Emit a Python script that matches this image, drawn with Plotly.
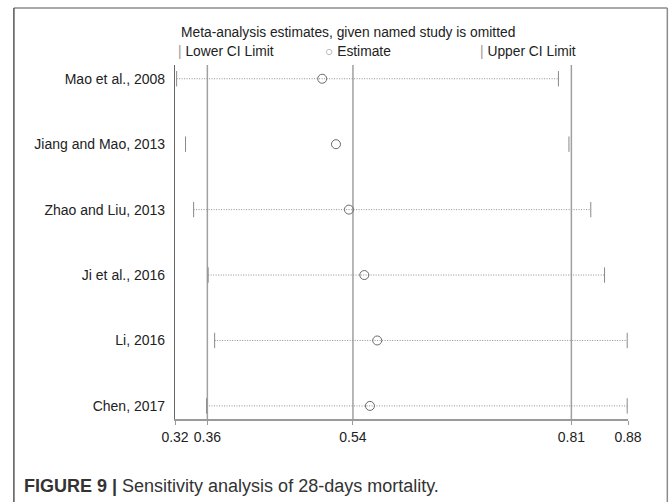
import plotly.graph_objects as go

studies = ["Mao et al., 2008", "Jiang and Mao, 2013", "Zhao and Liu, 2013",
           "Ji et al., 2016", "Li, 2016", "Chen, 2017"]
estimate = [0.502, 0.519, 0.535, 0.554, 0.570, 0.561]
lower = [0.322, 0.333, 0.343, 0.361, 0.369, 0.359]
upper = [0.794, 0.807, 0.834, 0.851, 0.879, 0.879]
show_line = [True, False, True, True, True, True]
ref_lines = [0.36, 0.54, 0.81]
xticks = [0.32, 0.36, 0.54, 0.81, 0.88]
xtick_labels = ["0.32", "0.36", "0.54", "0.81", "0.88"]

n = len(studies)
ypos = [n - 1 - i for i in range(n)]

FONT = "Liberation Sans, Arial, sans-serif"
GRAY = "#8a8a8a"

fig = go.Figure()

# dotted CI lines
for i in range(n):
    if show_line[i]:
        fig.add_trace(go.Scatter(
            x=[lower[i], upper[i]], y=[ypos[i], ypos[i]], mode="lines",
            line=dict(color="#8f8f8f", width=1, dash="1px,1.5px"),
            showlegend=False, hoverinfo="skip"))

# CI end ticks
fig.add_trace(go.Scatter(
    x=lower + upper, y=ypos + ypos, mode="markers",
    marker=dict(symbol="line-ns", size=11, line=dict(color=GRAY, width=1)),
    showlegend=False, hoverinfo="skip"))

# estimates
fig.add_trace(go.Scatter(
    x=estimate, y=ypos, mode="markers",
    marker=dict(symbol="circle-open", size=9, color="#6a6a6a", line=dict(width=1)),
    showlegend=False))

for v in ref_lines:
    fig.add_vline(x=v, line=dict(color="#a0a0a0", width=1.5), layer="below")

fig.update_xaxes(range=[0.32, 0.88], tickvals=xticks, ticktext=xtick_labels,
                 showline=True, linecolor="#9a9a9a", linewidth=1.5,
                 ticks="outside", ticklen=4, tickcolor="#9a9a9a",
                 showgrid=False, zeroline=False,
                 tickfont=dict(family=FONT, size=14, color="#222222"))
fig.update_yaxes(range=[-0.2, 5.21], tickvals=ypos, ticktext=studies,
                 showline=True, linecolor="#666666", linewidth=1.2,
                 ticks="", showgrid=False, zeroline=False,
                 ticklabelstandoff=6,
                 tickfont=dict(family=FONT, size=14, color="#222222"))

W, H = 669, 502
L, R, T, B = 175, 41.3, 65, 83
pw, ph = W - L - R, H - T - B


def px(x):
    return (x - L) / pw


def py(y):
    return (H - B - y) / ph


annots = [
    dict(text="Meta-analysis estimates, given named study is omitted", x=px(179), y=py(33),
         font=dict(size=13.8)),
    dict(text="<span style='color:#999'>|</span> Lower CI Limit", x=px(176), y=py(52), font=dict(size=13.8)),
    dict(text="<span style='color:#999'>○</span> Estimate", x=px(323), y=py(52), font=dict(size=13.8)),
    dict(text="<span style='color:#999'>|</span> Upper CI Limit", x=px(478), y=py(52), font=dict(size=13.8)),
    dict(text="<b>FIGURE 9 |</b> Sensitivity analysis of 28-days mortality.", x=px(22), y=py(486),
         font=dict(size=18, color="#333333")),
]
for a in annots:
    fig.add_annotation(xref="paper", yref="paper", x=a["x"], y=a["y"], text=a["text"],
                       showarrow=False, xanchor="left", yanchor="middle",
                       font=dict(family=FONT, color=a["font"].get("color", "#222222"),
                                 size=a["font"]["size"]))

# outer frame
fig.add_shape(type="line", xref="paper", yref="paper", x0=px(14), x1=px(667), y0=py(8), y1=py(8),
              line=dict(color="#8c8c8c", width=1.5))
fig.add_shape(type="line", xref="paper", yref="paper", x0=px(14), x1=px(14), y0=py(8), y1=py(520),
              line=dict(color="#555555", width=1.5))
fig.add_shape(type="line", xref="paper", yref="paper", x0=px(667), x1=px(667), y0=py(8), y1=py(520),
              line=dict(color="#8c8c8c", width=1.5))

fig.update_layout(width=W, height=H, margin=dict(l=L, r=R, t=T, b=B),
                  paper_bgcolor="white", plot_bgcolor="white",
                  font=dict(family=FONT))

fig.write_html("out.html", config={"displayModeBar": False},
               post_script="document.body.style.margin='0px';")
